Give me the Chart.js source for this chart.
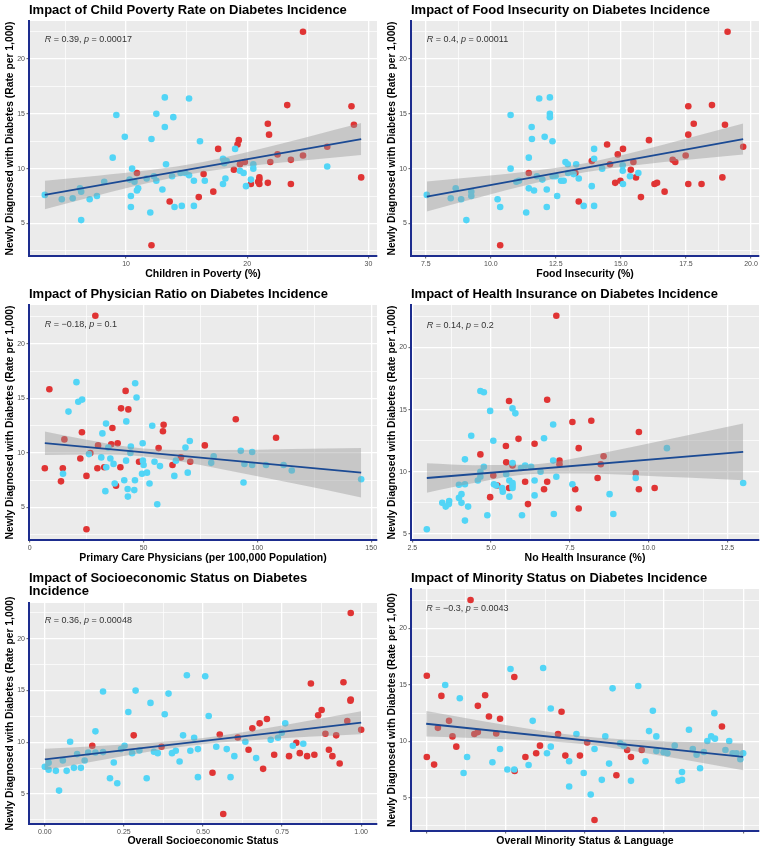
<!DOCTYPE html>
<html>
<head>
<meta charset="utf-8">
<script src="https://cdn.jsdelivr.net/npm/chart.js@4.4.0/dist/chart.umd.min.js"></script>
<style>
  body { margin: 0; background: #fff; }
  #grid { position: relative; width: 764px; height: 851px; }
  .panel { position: absolute; width: 382px; }
</style>
</head>
<body>
<div id="grid">
  <div class="panel" style="left:0;top:0;height:284px"><canvas id="povertyChart"></canvas></div>
  <div class="panel" style="left:382px;top:0;height:284px"><canvas id="foodChart"></canvas></div>
  <div class="panel" style="left:0;top:284px;height:284px"><canvas id="physChart"></canvas></div>
  <div class="panel" style="left:382px;top:284px;height:284px"><canvas id="insChart"></canvas></div>
  <div class="panel" style="left:0;top:568px;height:283px"><canvas id="sesChart"></canvas></div>
  <div class="panel" style="left:382px;top:568px;height:283px"><canvas id="minChart"></canvas></div>
</div>
<script>
// y axis (same for every panel)
const rateTicks = ["5", "10", "15", "20"];

// Children in poverty
const povertyTicks = ["10", "20", "30"];
const povertyCyanX = [3.3,4.7,5.6,6.2,6.3,6.3,7.0,7.6,8.2,8.9,9.2,9.9,10.4,10.4,10.5,10.3,10.7,10.9,11.0,12.1,12.0,11.7,12.3,12.5,12.5,13.0,13.2,13.2,13.3,13.8,13.9,14.0,14.6,14.5,14.9,15.2,15.2,15.6,15.6,16.1,16.5,18.0,18.0,18.1,18.3,18.2,19.0,19.4,19.7,19.9,20.3,20.5,20.5,26.6];
const povertyCyanY = [7.6,7.2,7.3,8.2,7.9,5.3,7.2,7.5,8.8,11.0,14.9,12.9,6.5,7.5,10.0,9.0,8.8,8.0,8.2,12.7,6.0,9.1,9.3,8.9,15.0,8.1,16.5,13.8,10.4,9.3,14.7,6.5,6.6,9.6,9.6,9.4,16.4,8.9,6.6,12.5,8.9,8.6,10.9,10.5,10.7,9.1,11.8,9.8,9.6,8.4,9.0,10.4,10.0,10.2];
const povertyRedX = [12.1,10.9,13.6,16.0,16.4,17.2,17.6,18.9,19.2,19.3,19.4,19.8,20.3,20.9,21.0,21.0,21.0,21.7,21.7,21.8,21.9,22.5,23.3,23.6,23.6,24.6,24.6,26.6,28.6,28.8,29.4];
const povertyRedY = [3.0,9.6,7.0,7.4,9.5,7.9,11.8,9.9,12.2,12.6,10.4,10.6,8.6,8.8,9.0,9.2,8.6,8.7,14.1,13.1,10.6,11.3,15.8,10.8,8.6,22.5,11.2,12.0,15.7,14.0,9.2];
const povertyFitX = [3.3, 29.4];
const povertyFitY = [7.6, 12.7];
const povertyBandX = [3.3, 7.65, 12.0, 16.35, 20.7, 25.05, 29.4];
const povertyBandHi = [8.90, 9.36, 9.87, 10.61, 11.69, 12.91, 14.16];
const povertyBandLo = [6.30, 7.55, 8.73, 9.69, 10.31, 10.79, 11.24];

// Food insecurity
const foodTicks = ["7.5", "10.0", "12.5", "15.0", "17.5", "20.0"];
const foodCyanX = [7.54,8.46,8.65,8.86,9.25,9.25,9.06,10.26,10.36,10.76,10.76,10.98,11.08,11.36,11.46,11.46,11.57,11.58,11.66,11.77,11.98,11.86,12.07,12.15,12.15,12.27,12.27,12.27,12.37,12.38,12.49,12.55,12.7,12.8,12.87,12.96,12.97,13.18,13.28,13.38,13.57,13.88,13.97,13.97,13.97,14.28,15.07,15.07,15.08,15.35,15.67];
const foodCyanY = [7.6,7.3,8.2,7.2,7.9,7.5,5.3,7.2,6.5,14.9,10.0,8.8,8.9,6.0,11.0,8.2,13.8,12.7,8.0,9.3,9.0,16.4,12.9,8.1,6.5,16.5,15.0,14.7,12.5,9.3,9.3,7.5,8.9,8.9,10.6,10.4,9.6,9.5,10.4,9.1,6.6,8.4,11.8,10.9,6.6,10.0,10.3,9.8,8.6,9.3,9.6];
const foodRedX = [10.36,11.46,13.25,13.38,13.88,14.47,14.58,14.78,14.88,14.98,15.08,15.38,15.48,15.58,15.77,16.08,16.29,16.39,16.68,16.99,17.09,17.49,17.59,17.59,17.59,17.8,18.1,18.5,18.9,19.0,19.1,19.7];
const foodRedY = [3.0,9.6,9.6,7.0,10.7,12.2,10.4,8.7,11.3,8.9,11.8,9.9,10.6,9.2,7.4,12.6,8.6,8.7,7.9,10.8,10.6,11.2,15.7,13.1,8.6,14.1,8.6,15.8,9.2,14.0,22.5,12.0];
const foodFitX = [7.54, 19.7];
const foodFitY = [7.45, 12.7];
const foodBandX = [7.54, 9.57, 11.59, 13.62, 15.65, 17.67, 19.7];
const foodBandHi = [8.82, 9.28, 9.79, 10.50, 11.59, 12.83, 14.12];
const foodBandLo = [6.09, 7.38, 8.61, 9.66, 10.33, 10.83, 11.28];

// Primary care physicians
const physTicks = ["0", "50", "100", "150"];
const physCyanX = [14.6,17.0,20.5,21.3,23.0,26.0,31.4,31.9,33.2,33.5,33.6,34.5,35.4,36.8,37.3,41.5,42.3,42.4,43.1,43.0,44.2,44.4,45.9,46.2,46.3,46.9,49.3,49.6,49.7,50.0,51.5,52.6,53.8,54.8,56.0,57.2,64.2,63.5,68.4,69.4,70.3,79.7,80.8,92.7,93.9,94.3,97.7,97.7,103.8,111.5,115.1,145.6];
const physCyanY = [8.1,13.8,16.5,14.7,14.9,9.9,9.6,11.8,6.5,12.7,8.7,10.5,9.5,9.0,7.2,7.5,9.3,12.9,6.0,6.7,10.0,10.6,6.6,7.5,16.4,15.1,8.1,10.9,9.3,8.9,8.2,7.2,12.5,9.2,5.3,8.8,9.3,7.9,10.5,8.2,11.1,9.1,9.7,10.2,7.3,9.0,10.1,8.9,8.9,8.9,8.4,7.6];
const physRedX = [6.6,8.6,13.7,14.5,15.2,22.2,22.9,24.9,24.9,26.6,28.8,29.7,30.0,32.7,35.8,36.3,37.9,38.6,39.8,40.1,42.1,43.3,48.0,56.6,58.5,58.8,62.7,66.4,70.5,76.9,90.5,108.2];
const physRedY = [8.6,15.85,7.4,8.6,11.25,9.5,11.9,7.9,3.0,10.0,22.6,8.6,10.7,8.7,10.8,12.3,7.0,10.9,8.7,14.1,15.7,14.0,9.2,10.45,12.0,12.6,8.9,9.6,9.2,10.7,13.1,11.4];
const physFitX = [6.6, 145.6];
const physFitY = [10.9, 8.2];
const physBandX = [6.6, 25, 45, 65, 85, 115, 145.6];
const physBandHi = [11.98, 11.22, 10.52, 10.27, 10.27, 10.36, 10.47];
const physBandLo = [9.82, 9.86, 9.78, 9.27, 8.49, 7.24, 5.93];

// No health insurance
const insTicks = ["2.5", "5.0", "7.5", "10.0", "12.5"];
const insCyanX = [2.96,3.45,3.56,3.66,3.67,3.98,3.98,4.06,4.06,4.17,4.17,4.17,4.27,4.37,4.58,4.66,4.66,4.66,4.77,4.77,4.88,4.97,5.07,5.09,5.16,5.35,5.37,5.48,5.58,5.58,5.68,5.77,5.68,5.68,5.68,5.68,5.98,5.95,6.08,6.27,6.38,6.38,6.57,6.68,6.97,6.97,6.99,7.07,7.58,8.76,8.88,9.59,10.58,13.0];
const insCyanY = [5.37,7.5,7.2,7.4,7.65,8.96,7.9,8.2,7.5,6.07,11.0,9.0,7.2,12.9,9.3,9.6,10.0,16.5,16.4,10.4,6.5,14.9,12.5,9.0,8.9,8.7,8.4,9.8,8.0,9.3,15.1,14.7,10.7,8.9,8.7,9.1,6.5,10.3,10.5,10.4,9.3,8.1,10.0,12.7,13.8,10.9,6.6,9.6,9.0,8.2,6.6,9.5,11.9,9.1];
const insRedX = [4.66,5.07,5.2,4.97,5.57,5.47,5.48,5.57,5.68,5.87,6.08,6.17,6.38,6.68,6.78,6.78,7.07,7.17,7.17,7.58,7.67,7.78,7.78,8.18,8.38,8.48,8.57,9.59,9.69,9.69,10.19];
const insRedY = [11.4,9.7,8.9,7.96,15.7,12.07,10.76,8.7,10.5,12.65,9.2,7.4,12.26,8.6,15.8,9.2,22.56,10.9,10.6,14.0,8.6,11.9,7.04,14.1,9.5,10.6,11.25,9.9,13.2,8.6,8.7];
const insFitX = [2.96, 13.0];
const insFitY = [9.5, 11.6];
const insBandX = [2.96, 4.5, 6.3, 8.0, 9.7, 11.35, 13.0];
const insBandHi = [10.69, 10.53, 10.58, 11.24, 12.11, 12.99, 13.88];
const insBandLo = [8.32, 9.11, 9.82, 9.86, 9.71, 9.51, 9.32];

// Overall socioeconomic status
const sesTicks = ["0.00", "0.25", "0.50", "0.75", "1.00"];
const sesCyanX = [0.0,0.012,0.012,0.035,0.045,0.057,0.069,0.08,0.092,0.102,0.114,0.126,0.137,0.16,0.16,0.184,0.184,0.206,0.218,0.229,0.241,0.252,0.264,0.276,0.287,0.299,0.322,0.334,0.345,0.357,0.379,0.391,0.402,0.414,0.426,0.437,0.449,0.46,0.472,0.484,0.484,0.507,0.518,0.542,0.575,0.587,0.599,0.634,0.668,0.714,0.737,0.749,0.76,0.784,0.817];
const sesCyanY = [7.62,8.0,7.33,7.23,5.32,8.23,7.23,10.04,7.52,8.85,7.52,8.23,9.0,11.05,9.0,14.9,9.04,6.52,8.04,6.03,9.33,9.66,12.92,8.94,14.99,9.2,6.52,13.8,9.07,8.94,12.7,14.7,8.94,9.17,8.14,10.66,16.48,9.17,10.43,9.33,6.62,16.38,12.53,9.56,9.33,6.62,8.65,10.04,8.46,10.24,10.43,10.92,11.82,9.66,9.85];
const sesRedX = [0.15,0.281,0.369,0.53,0.553,0.564,0.61,0.644,0.656,0.679,0.69,0.702,0.725,0.772,0.795,0.806,0.829,0.841,0.852,0.864,0.875,0.887,0.898,0.909,0.921,0.932,0.944,0.956,0.966,0.967,0.967,1.0];
const sesRedY = [9.66,10.66,9.56,7.04,10.75,3.06,10.46,9.27,11.34,11.82,7.42,12.24,8.78,8.65,9.95,8.94,8.65,15.67,8.78,12.6,13.11,10.82,9.27,8.65,10.66,7.94,15.8,12.05,14.02,14.12,22.49,11.2];
const sesFitX = [0, 1];
const sesFitY = [8.33, 11.89];
const sesBandX = [0, 0.167, 0.333, 0.5, 0.667, 0.833, 1.0];
const sesBandHi = [9.36, 9.63, 9.95, 10.41, 11.19, 12.08, 13.0];
const sesBandLo = [7.30, 8.21, 9.10, 9.81, 10.21, 10.52, 10.78];

// Overall minority status & language (tick labels not shown)
const minTicks = ["0", "0.25", "0.5", "0.75", "1"];
const minCyanX = [0.06,0.106,0.118,0.129,0.209,0.233,0.256,0.266,0.278,0.323,0.336,0.369,0.381,0.393,0.393,0.451,0.451,0.474,0.497,0.519,0.531,0.554,0.565,0.577,0.588,0.612,0.623,0.646,0.669,0.692,0.703,0.715,0.726,0.726,0.749,0.761,0.784,0.796,0.807,0.807,0.829,0.841,0.853,0.864,0.876,0.887,0.899,0.909,0.911,0.944,0.956,0.967,0.979,0.991,1.0];
const minCyanY = [15.0,13.82,7.2,8.62,8.15,9.32,7.5,16.41,7.5,7.91,11.82,16.5,8.94,12.91,9.53,8.24,6.0,10.65,7.2,5.29,9.32,6.59,10.44,8.03,14.7,9.82,9.62,6.5,14.91,8.24,10.91,12.71,10.44,9.15,9.03,8.94,9.62,6.5,7.29,6.59,11.03,9.32,8.82,7.62,9.06,10.03,10.44,12.5,10.24,9.24,10.03,8.94,8.94,8.41,8.94];
const minRedX = [0.002,0.002,0.025,0.037,0.048,0.072,0.083,0.095,0.14,0.152,0.163,0.163,0.186,0.198,0.221,0.233,0.278,0.279,0.313,0.347,0.359,0.416,0.427,0.439,0.485,0.508,0.531,0.6,0.634,0.646,0.68,0.933];
const minRedY = [15.82,8.62,7.94,11.2,14.03,11.82,10.44,9.53,22.53,10.65,13.15,10.82,14.09,12.2,10.7,12.0,15.7,7.38,8.62,8.94,9.62,10.65,12.62,8.74,8.74,9.91,3.03,7.0,9.24,8.62,9.24,11.32];
const minFitX = [0, 1];
const minFitY = [11.56, 8.62];
const minBandX = [0, 0.167, 0.333, 0.5, 0.667, 0.833, 1.0];
const minBandHi = [12.69, 11.86, 11.07, 10.44, 10.12, 9.94, 9.80];
const minBandLo = [10.43, 10.28, 10.09, 9.74, 9.08, 8.28, 7.44];

const FONT = "'Liberation Sans', Arial, sans-serif";
Chart.defaults.font.family = FONT;

const cyan = "#52D5F6";
const red = "#E03434";
const bandFill = "rgba(150,150,150,0.42)";
const fitColor = "#1B4A94";
const axisColor = "#1D2D8E";

const toPts = (xs, ys) => xs.map((x, i) => ({ x, y: ys[i] }));

// major + minor grid positions (minor halfway between majors)
function gridValues(majors, min, max) {
  const step = majors[1] - majors[0];
  const vals = majors.filter(v => v >= min && v <= max);
  for (let v = majors[0] - step / 2; v <= max; v += step) {
    if (v >= min) vals.push(Math.round(v * 1e6) / 1e6);
  }
  return vals;
}

function textPlugin(p) {
  return {
    id: "panelText",
    beforeDraw(chart) {
      const { ctx, chartArea: a } = chart;
      ctx.save();
      ctx.fillStyle = "#EBEBEB";
      ctx.fillRect(a.left, a.top, a.right - a.left, a.bottom - a.top);
      ctx.restore();
    },
    afterDraw(chart) {
      const { ctx, chartArea: a, scales } = chart;
      ctx.save();
      ctx.fillStyle = "#000";
      ctx.font = "bold 13px " + FONT;
      ctx.textBaseline = "alphabetic";
      p.title.forEach((line, i) => ctx.fillText(line, a.left, 14 + i * 13.4));

      let x = scales.x.getPixelForValue(p.labelX);
      const y = scales.y.getPixelForValue(21.8);
      ctx.fillStyle = "#333";
      ctx.textBaseline = "middle";
      p.label.forEach(([txt, italic]) => {
        ctx.font = (italic ? "italic " : "") + "9px " + FONT;
        ctx.fillText(txt, x, y);
        x += ctx.measureText(txt).width;
      });
      ctx.restore();
    }
  };
}

function drawPanel(id, p) {
  const allX = p.cyanX.concat(p.redX);
  const allY = p.cyanY.concat(p.redY);
  const xLo = Math.min(...allX), xHi = Math.max(...allX);
  const yLo = Math.min(...allY), yHi = Math.max(...allY);
  const xMin = xLo - (xHi - xLo) * 0.05, xMax = xHi + (xHi - xLo) * 0.05;
  const yMin = yLo - (yHi - yLo) * 0.05, yMax = yHi + (yHi - yLo) * 0.05;

  const xMajor = p.xTicks.map(parseFloat);
  const yMajor = rateTicks.map(parseFloat);
  const xLabels = new Map(xMajor.map((v, i) => [v, p.xTicks[i]]));
  const yLabels = new Map(yMajor.map((v, i) => [v, rateTicks[i]]));
  const xGrid = gridValues(xMajor, xMin, xMax);
  const yGrid = gridValues(yMajor, yMin, yMax);

  const gridOpts = (labels) => ({
    color: "#fff",
    lineWidth: c => (c.tick && labels.has(c.tick.value)) ? 1.3 : 0.7,
    tickLength: 2.5,
    tickWidth: 0.8,
    tickColor: c => (c.tick && labels.has(c.tick.value)) ? "#333" : "rgba(0,0,0,0)"
  });

  new Chart(document.getElementById(id), {
    type: "scatter",
    data: {
      datasets: [
        { data: toPts(p.cyanX, p.cyanY), backgroundColor: cyan, pointBackgroundColor: cyan,
          pointRadius: 3.3, pointBorderWidth: 0, borderWidth: 0, order: 3 },
        { data: toPts(p.redX, p.redY), backgroundColor: red, pointBackgroundColor: red,
          pointRadius: 3.3, pointBorderWidth: 0, borderWidth: 0, order: 3 },
        { type: "line", data: toPts(p.bandX, p.bandHi), borderColor: "transparent", borderWidth: 0,
          pointRadius: 0, fill: "+1", backgroundColor: bandFill, cubicInterpolationMode: "monotone", order: 2 },
        { type: "line", data: toPts(p.bandX, p.bandLo), borderColor: "transparent", borderWidth: 0,
          pointRadius: 0, fill: false, cubicInterpolationMode: "monotone", order: 2 },
        { type: "line", data: toPts(p.fitX, p.fitY), borderColor: fitColor, borderWidth: 1.8,
          pointRadius: 0, fill: false, order: 1 }
      ]
    },
    options: {
      responsive: true,
      maintainAspectRatio: false,
      animation: false,
      events: [],
      layout: { autoPadding: false, padding: { top: p.padTop, right: 5, bottom: 0, left: 0 } },
      plugins: { legend: { display: false }, tooltip: { enabled: false }, title: { display: false } },
      scales: {
        x: {
          type: "linear", min: xMin, max: xMax,
          afterBuildTicks: ax => { ax.ticks = xGrid.map(v => ({ value: v })); },
          afterFit: ax => { ax.height = p.xAxisH; },
          ticks: {
            autoSkip: false, maxRotation: 0, padding: 1.5, color: "#4D4D4D", font: { size: 7 },
            callback: v => (p.showXLabels && xLabels.has(v)) ? xLabels.get(v) : ""
          },
          grid: gridOpts(xLabels),
          border: { display: true, color: axisColor, width: 2 },
          title: { display: true, text: p.xTitle, color: "#000", font: { size: 10.5, weight: "bold" },
                   padding: { top: 0, bottom: 3.5 } }
        },
        y: {
          type: "linear", min: yMin, max: yMax,
          afterBuildTicks: ax => { ax.ticks = yGrid.map(v => ({ value: v })); },
          afterFit: ax => { ax.width = 29; },
          ticks: {
            autoSkip: false, padding: 1.5, color: "#4D4D4D", font: { size: 7 },
            callback: v => yLabels.has(v) ? yLabels.get(v) : ""
          },
          grid: gridOpts(yLabels),
          border: { display: true, color: axisColor, width: 2 },
          title: { display: true, text: "Newly Diagnosed with Diabetes (Rate per 1,000)", color: "#000",
                   font: { size: 10.3, weight: "bold" }, padding: { top: 4, bottom: 0 } }
        }
      }
    },
    plugins: [textPlugin(p)]
  });
}

drawPanel("povertyChart", {
  title: ["Impact of Child Poverty Rate on Diabetes Incidence"],
  xTitle: "Children in Poverty (%)", xTicks: povertyTicks, showXLabels: true,
  cyanX: povertyCyanX, cyanY: povertyCyanY, redX: povertyRedX, redY: povertyRedY,
  fitX: povertyFitX, fitY: povertyFitY, bandX: povertyBandX, bandHi: povertyBandHi, bandLo: povertyBandLo,
  labelX: 3.3, label: [["R", true], [" = 0.39, ", false], ["p", true], [" = 0.00017", false]],
  padTop: 21, xAxisH: 28
});

drawPanel("foodChart", {
  title: ["Impact of Food Insecurity on Diabetes Incidence"],
  xTitle: "Food Insecurity (%)", xTicks: foodTicks, showXLabels: true,
  cyanX: foodCyanX, cyanY: foodCyanY, redX: foodRedX, redY: foodRedY,
  fitX: foodFitX, fitY: foodFitY, bandX: foodBandX, bandHi: foodBandHi, bandLo: foodBandLo,
  labelX: 7.54, label: [["R", true], [" = 0.4, ", false], ["p", true], [" = 0.00011", false]],
  padTop: 21, xAxisH: 28
});

drawPanel("physChart", {
  title: ["Impact of Physician Ratio on Diabetes Incidence"],
  xTitle: "Primary Care Physicians (per 100,000 Population)", xTicks: physTicks, showXLabels: true,
  cyanX: physCyanX, cyanY: physCyanY, redX: physRedX, redY: physRedY,
  fitX: physFitX, fitY: physFitY, bandX: physBandX, bandHi: physBandHi, bandLo: physBandLo,
  labelX: 6.6, label: [["R", true], [" = \u22120.18, ", false], ["p", true], [" = 0.1", false]],
  padTop: 21, xAxisH: 28
});

drawPanel("insChart", {
  title: ["Impact of Health Insurance on Diabetes Incidence"],
  xTitle: "No Health Insurance (%)", xTicks: insTicks, showXLabels: true,
  cyanX: insCyanX, cyanY: insCyanY, redX: insRedX, redY: insRedY,
  fitX: insFitX, fitY: insFitY, bandX: insBandX, bandHi: insBandHi, bandLo: insBandLo,
  labelX: 2.96, label: [["R", true], [" = 0.14, ", false], ["p", true], [" = 0.2", false]],
  padTop: 21, xAxisH: 28
});

drawPanel("sesChart", {
  title: ["Impact of Socioeconomic Status on Diabetes", "Incidence"],
  xTitle: "Overall Socioeconomic Status", xTicks: sesTicks, showXLabels: true,
  cyanX: sesCyanX, cyanY: sesCyanY, redX: sesRedX, redY: sesRedY,
  fitX: sesFitX, fitY: sesFitY, bandX: sesBandX, bandHi: sesBandHi, bandLo: sesBandLo,
  labelX: 0, label: [["R", true], [" = 0.36, ", false], ["p", true], [" = 0.00048", false]],
  padTop: 35, xAxisH: 27
});

drawPanel("minChart", {
  title: ["Impact of Minority Status on Diabetes Incidence"],
  xTitle: "Overall Minority Status & Language", xTicks: minTicks, showXLabels: false,
  cyanX: minCyanX, cyanY: minCyanY, redX: minRedX, redY: minRedY,
  fitX: minFitX, fitY: minFitY, bandX: minBandX, bandHi: minBandHi, bandLo: minBandLo,
  labelX: 0, label: [["R", true], [" = \u22120.3, ", false], ["p", true], [" = 0.0043", false]],
  padTop: 21, xAxisH: 20
});
</script>
</body>
</html>
